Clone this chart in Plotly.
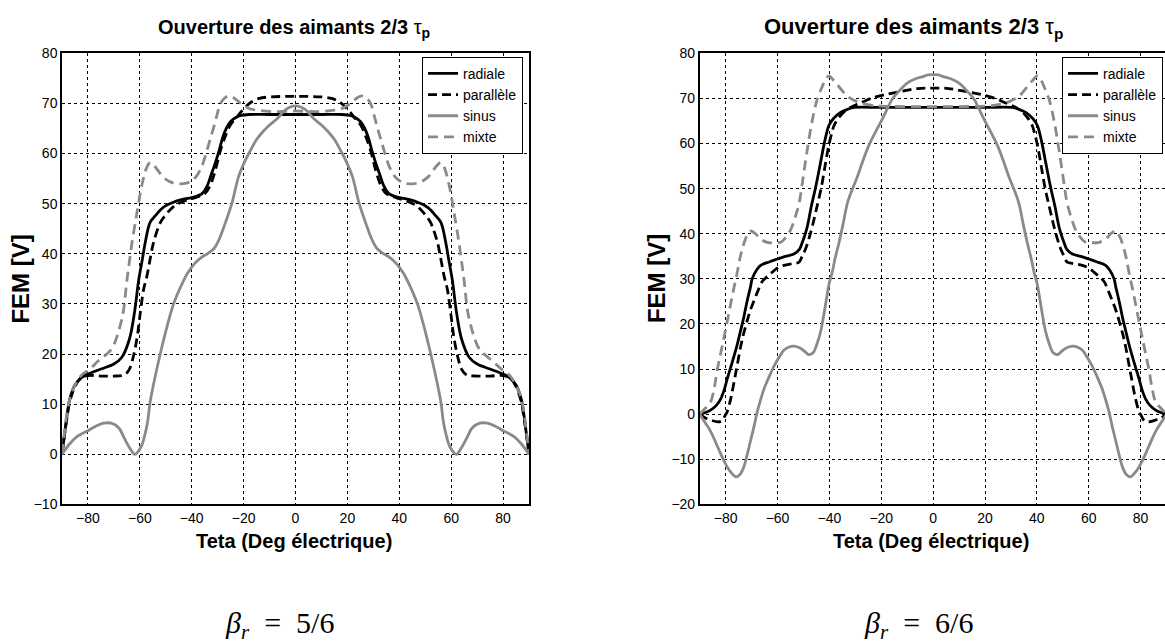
import plotly.graph_objects as go

W, H = 1165, 644

# ---------------- data : beta_r = 5/6 (left) ----------------
L_rad_x = [-90,-89,-88,-87,-85,-82.5,-80,-75,-70,-67,-64,-62,-60.5,-59,-58,-56,-54,-52,-50,-48,-44,-40,-36,-34,-32.5,-31,-29.5,-28,-26.5,-25,-23,-21,-18,-10,0,
           10,18,21,23,25,26.5,28,29.5,31,32.5,34,36,40,44,48,50,52,54,56,58,59,60.5,62,64,67,70,75,80,82.5,85,87,88,89,90]
L_rad_y = [0,4,8,11,13.8,15.3,16,17,18,19.3,23,28.5,34.6,39,42,46.3,47.6,48.8,49.6,50.1,50.8,51.2,52,53.6,55.8,58,60.5,63.3,65.2,66.4,67.2,67.6,67.8,67.8,67.8,
           67.8,67.8,67.6,67.2,66.4,65.2,63.3,60.5,58,55.8,53.6,52,51.2,50.8,50.1,49.6,48.8,47.6,46.3,42,39,34.6,28.5,23,19.3,18,17,16,15.3,13.8,11,8,4,0]

L_par_x = [-90,-89,-88,-87,-85,-83,-80,-75,-70,-67,-65.5,-64,-62.5,-61,-60,-58.5,-57.3,-56,-54.7,-52,-50,-48.3,-46,-43,-40,-37,-35,-33,-31,-29,-27,-25,-23,-21,-19,-17,-14,-10,-5,0,
           5,10,14,17,19,21,23,25,27,29,31,33,35,37,40,43,46,48.3,50,52,54.7,56,57.3,58.5,60,61,62.5,64,65.5,67,70,75,80,83,85,87,88,89,90]
L_par_y = [0,4,7.5,10.5,13.5,15.1,15.7,15.6,15.6,15.7,16,17,19.5,23.5,27.5,33,35.5,39,42.3,46.3,47.8,48.8,49.8,50.5,51,51.5,52,53.5,56.5,60.5,63.5,65.8,67,68.3,69.4,70.3,71,71.3,71.4,71.4,
           71.4,71.3,71,70.3,69.4,68.3,67,65.8,63.5,60.5,56.5,53.5,52,51.5,51,50.5,49.8,48.8,47.8,46.3,42.3,39,35.5,33,27.5,23.5,19.5,17,16,15.7,15.6,15.6,15.7,15.1,13.5,10.5,7.5,4,0]

L_sin_x = [-90,-87,-84,-80,-77,-74,-71,-68,-66,-63.5,-62,-59.5,-58,-57,-56,-54,-52,-49.5,-47,-44,-41.5,-39,-36.5,-34,-31.5,-29.5,-27.5,-24.5,-22,-19.5,-17.5,-15,-12.5,-10,-7,-4,-2,0,
           2,4,7,10,12.5,15,17.5,19.5,22,24.5,27.5,29.5,31.5,34,36.5,39,41.5,44,47,49.5,52,54,56,57,58,59.5,62,63.5,66,68,71,74,77,80,84,87,90]
L_sin_y = [0,2.1,3.6,4.7,5.6,6.2,6.2,5.2,3.2,0.9,0,1.5,4,6.5,10.5,15.7,20.3,25.5,30,33.7,36.2,38,39.2,40,41,42.8,45.5,50.1,55.3,58.5,60.5,62.8,64.4,65.7,67,68.7,69.3,69.5,
           69.3,68.7,67,65.7,64.4,62.8,60.5,58.5,55.3,50.1,45.5,42.8,41,40,39.2,38,36.2,33.7,30,25.5,20.3,15.7,10.5,6.5,4,1.5,0,0.9,3.2,5.2,6.2,6.2,5.6,4.7,3.6,2.1,0]

L_mix_x = [-90,-89,-88,-86.5,-84,-82,-80,-78,-76.5,-74.5,-72.7,-70.5,-68.8,-67.5,-66.3,-65,-64,-63,-61.5,-60.5,-59.5,-58.5,-57.3,-56,-54.5,-53,-51,-48.5,-45.8,-42,-40,-38,-36,-34.2,-32.8,-31.6,-30.3,-29,-27.5,-25.7,-24,-22.5,-20,-17.4,-14,-10,-5,0,
           5,10,14,17.4,20,22.5,24,25.7,27.5,29,30.3,31.6,32.8,34.2,36,38,40,42,45.8,48.5,51,53,54.5,56,57.3,58.5,59.5,60.5,61.5,63,64,65,66.3,67.5,68.8,70.5,72.7,74.5,76.5,78,80,82,84,86.5,88,89,90]
L_mix_y = [0,4.5,8.5,12,14.7,16,16.7,17.6,18.4,19.2,20,21.3,23.5,25.8,28.7,34.6,38.5,42.3,47,50.1,53,55.3,57.3,58.2,57.6,56.6,55.3,54.4,54,54.1,54.6,55.6,57.6,60.5,63,65.1,67.6,69.9,71,71.5,71.2,70.6,69.6,68.9,68.6,68.4,68.4,68.5,
           68.4,68.4,68.6,68.9,69.6,70.6,71.2,71.5,71,69.9,67.6,65.1,63,60.5,57.6,55.6,54.6,54.1,54,54.4,55.3,56.6,57.6,58.2,57.3,55.3,53,50.1,47,42.3,38.5,34.6,28.7,25.8,23.5,21.3,20,19.2,18.4,17.6,16.7,16,14.7,12,8.5,4.5,0]

# ---------------- data : beta_r = 6/6 (right) ----------------
R_rad_x = [-90,-88,-85.8,-83.5,-81.9,-80.5,-79.4,-78,-76.8,-75.5,-74.2,-73,-71.7,-70.5,-69.7,-68,-66.5,-63,-60,-57,-53.7,-51.5,-50.5,-49.5,-48.5,-47,-45.3,-43.5,-42.1,-41,-40.2,-38.5,-35.7,-33,-30.5,-20,0,
           20,30.5,33,35.7,38.5,40.2,41,42.1,43.5,45.3,47,48.5,49.5,50.5,51.5,53.7,57,60,63,66.5,68,69.7,70.5,71.7,73,74.2,75.5,76.8,78,79.4,80.5,81.9,83.5,85.8,88,90]
R_rad_y = [0,0.3,0.9,2,3.4,5.5,7.8,10.5,12.8,15.5,18.6,21.5,25.1,28,30.1,32,33,33.8,34.4,35,35.5,36.6,38,39.6,41.6,46,50.3,55.5,59.7,62.5,64,65.5,66.9,67.6,68,68,68,
           68,68,67.6,66.9,65.5,64,62.5,59.7,55.5,50.3,46,41.6,39.6,38,36.6,35.5,35,34.4,33.8,33,32,30.1,28,25.1,21.5,18.6,15.5,12.8,10.5,7.8,5.5,3.4,2,0.9,0.3,0]

R_par_x = [-90,-88,-85.8,-83,-81.5,-80.2,-79.4,-78,-76.8,-75.5,-74.2,-73,-71.7,-70.5,-69.1,-67.5,-65.9,-64,-62,-60,-57.5,-54,-51.7,-50.5,-49.2,-48,-46.6,-45,-43.1,-41.5,-40.2,-39,-38.2,-36,-33.1,-30.5,-28,-24,-19,-12,-6,0,
           6,12,19,24,28,30.5,33.1,36,38.2,39,40.2,41.5,43.1,45,46.6,48,49.2,50.5,51.7,54,57.5,60,62,64,65.9,67.5,69.1,70.5,71.7,73,74.2,75.5,76.8,78,79.4,80.2,81.5,83,85.8,88,90]
R_par_y = [0,-0.8,-1.3,-1.7,-1.5,-0.3,0.55,3.5,7,11,15,18,20.7,23,25.1,27.4,29.4,30.5,31.5,32.4,33,33.4,33.7,35,36.6,38.7,41.6,45.5,50.3,55.6,59.7,62.5,64,66,67.6,68.4,69,70,70.8,71.6,72.2,72.3,
           72.2,71.6,70.8,70,69,68.4,67.6,66,64,62.5,59.7,55.6,50.3,45.5,41.6,38.7,36.6,35,33.7,33.4,33,32.4,31.5,30.5,29.4,27.4,25.1,23,20.7,18,15,11,7,3.5,0.55,-0.3,-1.5,-1.7,-1.3,-0.8,0]

R_sin_x = [-90,-88,-85.8,-83.8,-81.9,-80.5,-79.4,-77.8,-76.1,-74.5,-73,-71.7,-70.4,-69,-67.8,-66.5,-65.2,-63.3,-61.4,-59.5,-57.5,-55.5,-53.7,-51.1,-49.5,-47.9,-46.3,-44.7,-43.3,-42.1,-41,-40.2,-38.9,-37.8,-36.3,-34.6,-33.1,-31.2,-29.3,-27,-24.7,-22,-19.6,-17.6,-15.8,-13,-10,-7,-4.2,-2,0,
           2,4.2,7,10,13,15.8,17.6,19.6,22,24.7,27,29.3,31.2,33.1,34.6,36.3,37.8,38.9,40.2,41,42.1,43.3,44.7,46.3,47.9,49.5,51.1,53.7,55.5,57.5,59.5,61.4,63.3,65.2,66.5,67.8,69,70.4,71.7,73,74.5,76.1,77.8,79.4,80.5,81.9,83.8,85.8,88,90]
R_sin_y = [0,-1.8,-3.8,-6.3,-8.8,-10.5,-11.7,-13,-13.9,-13.4,-11.7,-9,-5.9,-2.6,0.55,3.2,5.6,8.2,10.6,12.5,14.2,14.9,15.1,14.6,13.9,13.2,13.6,15.7,18.5,22.2,26,28.7,31.5,34.5,38,42.5,46.7,49.8,52.5,56.3,59.7,62.8,65.4,67.8,69.8,71.7,73.4,74.3,74.8,75.2,75.3,
           75.2,74.8,74.3,73.4,71.7,69.8,67.8,65.4,62.8,59.7,56.3,52.5,49.8,46.7,42.5,38,34.5,31.5,28.7,26,22.2,18.5,15.7,13.6,13.2,13.9,14.6,15.1,14.9,14.2,12.5,10.6,8.2,5.6,3.2,0.55,-2.6,-5.9,-9,-11.7,-13.4,-13.9,-13,-11.7,-10.5,-8.8,-6.3,-3.8,-1.8,0]

R_mix_x = [-90,-88,-85.8,-84.5,-83.2,-81.9,-80.6,-79.4,-78.1,-76.8,-75.5,-74.5,-73.6,-72,-70.4,-68.5,-66.5,-64,-61.4,-58.8,-56.8,-54.9,-53.3,-51.7,-50.5,-49.2,-48.2,-47.2,-46,-44.7,-43,-41.5,-40.2,-38.5,-36.3,-33.1,-30.5,-28,-24,-20,-10,0,
           10,20,24,28,30.5,33.1,36.3,38.5,40.2,41.5,43,44.7,46,47.2,48.2,49.2,50.5,51.7,53.3,54.9,56.8,58.8,61.4,64,66.5,68.5,70.4,72,73.6,74.5,75.5,76.8,78.1,79.4,80.6,81.9,83.2,84.5,85.8,88,90]
R_mix_y = [0,1.2,2.7,5.5,9.9,13.5,17.1,20.5,24.3,28,31.5,34.5,36.6,39.3,40.6,40,38.8,38.1,38,38.1,39.2,40.9,43.5,46.7,51,56.1,59.8,63.3,66.8,69.8,72.3,74.2,75,74.1,72.6,70.5,69.6,69,68.5,68.3,68.2,68.2,
           68.2,68.3,68.5,69,69.6,70.5,72.6,74.1,75,74.2,72.3,69.8,66.8,63.3,59.8,56.1,51,46.7,43.5,40.9,39.2,38.1,38,38.1,38.8,40,40.6,39.3,36.6,34.5,31.5,28,24.3,20.5,17.1,13.5,9.9,5.5,2.7,1.2,0]

x_ticks = [-80, -60, -40, -20, 0, 20, 40, 60, 80]
L_yticks = [-10, 0, 10, 20, 30, 40, 50, 60, 70, 80]
R_yticks = [-20, -10, 0, 10, 20, 30, 40, 50, 60, 70, 80]
names = ["radiale", "parallèle", "sinus", "mixte"]

# ---------------- styling ----------------
BLACK = "#000000"
GRAY = "#8a8a8a"
styles = [dict(color=BLACK, width=2.8, dash="solid"),
          dict(color=BLACK, width=2.8, dash="9px,5px"),
          dict(color=GRAY, width=2.8, dash="solid"),
          dict(color=GRAY, width=2.8, dash="10px,6px")]
SANS = "Liberation Sans, Arial, sans-serif"

def px2x(p):
    return p / W

def px2y(p):
    return 1 - p / H

fig = go.Figure()
left = [(L_rad_x, L_rad_y), (L_par_x, L_par_y), (L_sin_x, L_sin_y), (L_mix_x, L_mix_y)]
right = [(R_rad_x, R_rad_y), (R_par_x, R_par_y), (R_sin_x, R_sin_y), (R_mix_x, R_mix_y)]
for (xs, ys), nm, st in zip(left, names, styles):
    assert len(xs) == len(ys)
    fig.add_trace(go.Scatter(x=xs, y=ys, mode="lines", name=nm, line=st,
                             xaxis="x", yaxis="y", legend="legend", line_shape="spline"))
for (xs, ys), nm, st in zip(right, names, styles):
    assert len(xs) == len(ys)
    fig.add_trace(go.Scatter(x=xs, y=ys, mode="lines", name=nm, line=st,
                             xaxis="x2", yaxis="y2", legend="legend2", line_shape="spline"))

axis_common = dict(showgrid=True, gridcolor="black", gridwidth=1, griddash="3px,3px",
                   showline=True, linecolor="black", linewidth=1.5, zeroline=False,
                   ticks="", tickfont=dict(family=SANS, size=14, color="black"),
                   fixedrange=True)

ydom = [px2y(509), px2y(46.5)]
fig.update_layout(
    width=W, height=H, margin=dict(l=0, r=0, t=0, b=0),
    paper_bgcolor="white", plot_bgcolor="white",
    xaxis=dict(domain=[px2x(62), px2x(529)], range=[-90, 90], tickvals=x_ticks,
               anchor="y", mirror=True, **axis_common),
    yaxis=dict(domain=ydom, range=[-10, 80], tickvals=L_yticks, anchor="x",
               mirror=True, **axis_common),
    xaxis2=dict(domain=[px2x(699.7), 1.0], range=[-90, 89.4], tickvals=x_ticks,
                anchor="y2", mirror=True, **axis_common),
    yaxis2=dict(domain=ydom, range=[-20, 80], tickvals=R_yticks, anchor="x2",
                mirror=False, **axis_common),
    legend=dict(x=px2x(523), y=px2y(50), xanchor="right", yanchor="top",
                bgcolor="white", bordercolor="black", borderwidth=1,
                font=dict(family=SANS, size=14, color="black"), tracegroupgap=0),
    legend2=dict(x=px2x(1163), y=px2y(50), xanchor="right", yanchor="top",
                 bgcolor="white", bordercolor="black", borderwidth=1,
                 font=dict(family=SANS, size=14, color="black"), tracegroupgap=0),
    showlegend=True,
)

ann = []
title_txt = "<b>Ouverture des aimants 2/3 </b>τ<sub><b>p</b></sub>"
ann.append(dict(x=px2x(294), y=px2y(21), text=title_txt, showarrow=False,
                xref="paper", yref="paper", xanchor="center", yanchor="middle",
                font=dict(family=SANS, size=20, color="black")))
ann.append(dict(x=px2x(913), y=px2y(21), text=title_txt, showarrow=False,
                xref="paper", yref="paper", xanchor="center", yanchor="middle",
                font=dict(family=SANS, size=22, color="black")))
for cx in (294, 931):
    ann.append(dict(x=px2x(cx), y=px2y(547), text="<b>Teta (Deg électrique)</b>", showarrow=False,
                    xref="paper", yref="paper", xanchor="center", yanchor="middle",
                    font=dict(family=SANS, size=20, color="black")))
for cx in (20.5, 656):
    ann.append(dict(x=px2x(cx), y=px2y(278), text="<b>FEM [V]</b>", showarrow=False, textangle=-90,
                    xref="paper", yref="paper", xanchor="center", yanchor="middle",
                    font=dict(family=SANS, size=24, color="black")))
for cx, t in ((279.5, "5/6"), (918, "6/6")):
    ann.append(dict(x=px2x(cx), y=px2y(633), text="<i>β</i><sub><i>r</i></sub>\u2002=\u2002" + t, showarrow=False,
                    xref="paper", yref="paper", xanchor="center", yanchor="middle",
                    font=dict(family="Liberation Serif, DejaVu Serif, serif", size=30, color="black")))
fig.update_layout(annotations=ann)

fig.write_html("out.html")
